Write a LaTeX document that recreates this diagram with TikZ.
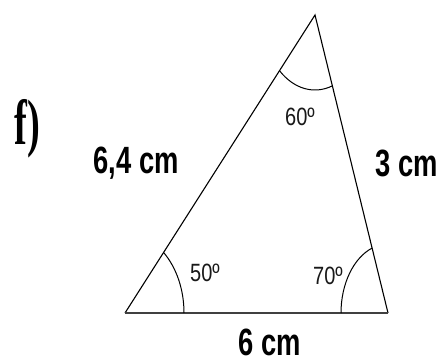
\documentclass[tikz,border=0pt]{standalone}
\usepackage{fontspec}
\setmainfont{Liberation Sans}
\newfontfamily\sidefont[FakeStretch=0.72]{Liberation Sans}
\newfontfamily\angfont[FakeStretch=0.8]{Liberation Sans}
\newfontfamily\tagfont[FakeStretch=0.6]{Liberation Serif}
\usetikzlibrary{positioning}

\begin{document}
\begin{tikzpicture}[x=1pt,y=1pt,
    side/.style={font=\sidefont\bfseries\fontsize{38}{38}\selectfont,inner sep=0pt},
    ang/.style={font=\angfont\fontsize{25}{25}\selectfont,inner sep=0pt,text=black!90}]
       \useasboundingbox (0,0) rectangle (443,363);
       % corners of the triangle
       \coordinate (A) at (125,50);
       \coordinate (B) at (388,50);
       \coordinate (C) at (315,348);
       \draw[line width=1.1pt] (A) -- (C) -- (B);
       \draw[line width=2.2pt,black!75] (A) -- (B);
       % angle marks
       \draw[line width=1pt] ([shift={(59,0)}]A) arc[start angle=0,end angle=49.2,x radius=59,y radius=80];
       \draw[line width=1pt] ([shift={(-47,0)}]B) arc[start angle=180,end angle=109.8,x radius=47,y radius=69];
       \draw[line width=1pt] ([shift={(227.9:53 and 75)}]C) arc[start angle=227.9,end angle=289.1,x radius=53,y radius=75];
       % texts
       \node[font=\tagfont\bfseries\fontsize{64}{64}\selectfont,inner sep=0pt] (tag) at (27,234) {f)};
       \node[side] (ac) at (136,200) {6,4 cm};
       \node[side] (bc) at (407,200) {3 cm};
       \node[side] (ab) at (270,21) {6 cm};
       \node[ang] (angC) at (300,246) {60º};
       \node[ang] (angA) at (205,90) {50º};
       \node[ang] (angB) at (328,87) {70º};
\end{tikzpicture}
\end{document}
